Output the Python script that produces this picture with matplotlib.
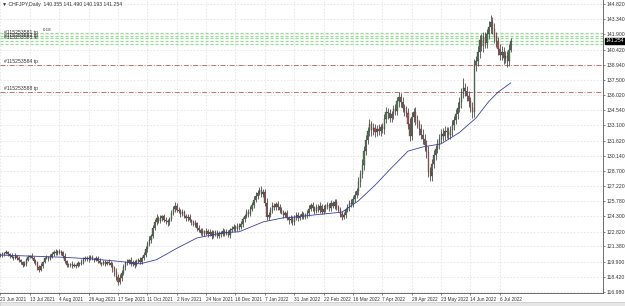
import matplotlib
matplotlib.use("Agg")
import matplotlib.pyplot as plt
from matplotlib import font_manager
import numpy as np
import pandas as pd

# --- data ---
title_text = "▼ CHFJPY,Daily  140.355 141.490 140.193 141.254"
start_date = "2021-06-21"
first_open = 120.45

closes = [
    120.55, 120.62, 120.71, 120.80, 120.66, 120.48, 120.35, 120.30, 120.42, 120.25,
    120.05, 119.85, 119.62, 119.70,
    120.10, 120.38, 120.45, 120.30,
    120.02, 119.74, 119.40, 119.15, 119.48,
    119.90, 120.22, 120.35, 120.18, 120.40,
    120.62, 120.85, 120.70, 120.92, 120.78, 120.88, 120.50,
    119.95, 119.62, 119.55, 119.70, 119.48, 119.60, 119.52, 119.75, 119.68,
    119.92, 120.15, 120.30, 120.12, 120.25, 120.38, 120.20, 120.10, 120.28,
    119.95, 119.80, 119.68, 119.85, 119.72, 119.90, 119.78, 119.60,
    119.25, 118.90, 118.40, 117.95, 118.30,
    118.85, 119.40, 119.75, 119.90, 120.05,
    119.70, 119.85, 119.62, 119.95, 120.10,
    119.90, 120.25, 120.55,
    121.10, 121.65, 122.05, 122.40,
    123.20, 123.75, 124.10,
    123.85, 124.15, 124.30, 123.95, 123.80, 123.70, 124.05,
    124.60, 125.05, 125.30, 124.95, 124.80,
    124.55, 124.70, 124.35, 124.10, 124.25, 123.90, 123.75, 123.50, 123.60, 123.20,
    122.95, 122.70, 122.85, 122.60, 122.90,
    122.55, 122.75, 122.40, 122.80, 122.65, 122.35, 122.70, 122.55, 122.90, 122.60,
    122.80, 122.50, 122.95,
    123.10, 123.30, 123.05, 123.40, 123.25, 123.55,
    124.00, 124.35, 124.70, 124.55, 125.05, 125.40,
    125.90, 126.30, 126.55, 126.80, 126.45, 126.60,
    125.60, 124.20, 124.45,
    124.95, 125.30, 125.15, 125.45, 125.20, 124.90,
    124.70, 124.45, 124.60, 124.15, 123.90, 124.05, 123.70,
    124.20, 124.45, 124.10, 124.35, 124.50, 124.25, 124.40, 124.60,
    125.00, 125.35, 125.10,
    124.85, 125.20, 124.95, 125.30, 124.75, 125.05, 125.25,
    125.40, 125.10, 125.55, 125.30, 125.65, 125.20, 124.90,
    124.55, 124.25, 124.45,
    124.90, 125.15, 125.60, 125.45, 126.00, 126.35, 126.75,
    127.60, 128.40, 129.30,
    130.60, 131.70, 132.50, 133.20,
    132.60, 132.85, 132.40, 132.70, 132.55, 132.90, 132.75,
    133.70, 134.40, 134.25,
    133.80, 134.20, 134.65, 134.50,
    135.40, 135.85, 135.30,
    134.80, 134.50, 134.30,
    133.20, 132.10, 133.90, 134.40,
    133.60, 133.20, 132.70, 132.20, 131.80,
    131.20, 130.50,
    128.60, 128.20,
    129.40, 130.20, 130.80, 131.30, 131.80,
    132.30, 132.10, 132.55, 132.40, 132.20, 132.60,
    133.10, 133.60, 134.20, 134.80, 135.30,
    136.10, 136.70,
    136.40, 135.90, 135.40, 134.80, 134.40, 138.90, 139.30, 140.20, 141.30, 140.80,
    141.60, 141.10, 141.90,
    142.60, 143.10, 142.40,
    141.60, 141.20,
    140.50, 139.90, 140.20, 139.60, 139.80,
    139.30, 140.36,
    141.254,
]

upper_wicks = [
    0.15, 0.2, 0.12, 0.25, 0.18, 0.1, 0.22, 0.15, 0.3, 0.12, 0.2, 0.15, 0.1, 0.25, 0.18, 0.2, 0.12, 0.28, 0.15, 0.1,
    0.2, 0.15, 0.3, 0.12, 0.18, 0.22, 0.1, 0.25, 0.2, 0.15, 0.3, 0.12, 0.2, 0.18, 0.1, 0.25, 0.15, 0.2, 0.12, 0.3,
    0.18, 0.1, 0.22, 0.15, 0.2, 0.25, 0.12, 0.18, 0.3, 0.15, 0.2, 0.1, 0.22, 0.15, 0.28, 0.12, 0.2, 0.18, 0.1, 0.25,
    0.2, 0.3, 0.25, 0.35, 0.3, 0.4, 0.25, 0.3, 0.2, 0.22, 0.15, 0.3, 0.18, 0.25, 0.2, 0.15, 0.3, 0.2, 0.25, 0.3,
    0.25, 0.35, 0.2, 0.3, 0.25, 0.4, 0.2, 0.3, 0.15, 0.25, 0.3, 0.2, 0.18, 0.3, 0.25, 0.35, 0.3, 0.2, 0.25, 0.3,
    0.2, 0.15, 0.3, 0.25, 0.18, 0.2, 0.3, 0.15, 0.25, 0.2, 0.3, 0.15, 0.22, 0.2, 0.3, 0.25, 0.15, 0.2, 0.28, 0.18,
    0.2, 0.3, 0.15, 0.25, 0.2, 0.18, 0.3, 0.22, 0.15, 0.25, 0.2, 0.3, 0.25, 0.2, 0.3, 0.35, 0.25, 0.3, 0.35, 0.3,
    0.25, 0.3, 0.4, 0.3, 0.35, 0.45, 0.3, 0.25, 0.35, 0.3, 0.2, 0.3, 0.25, 0.3, 0.2, 0.25, 0.3, 0.2, 0.35, 0.25,
    0.2, 0.3, 0.25, 0.2, 0.3, 0.25, 0.2, 0.3, 0.35, 0.25, 0.3, 0.2, 0.3, 0.25, 0.35, 0.2, 0.3, 0.25, 0.3, 0.2,
    0.3, 0.25, 0.35, 0.3, 0.2, 0.3, 0.25, 0.3, 0.2, 0.3, 0.25, 0.35, 0.3, 0.4, 0.3, 0.45, 0.4, 0.5, 0.45, 0.5,
    0.4, 0.5, 0.3, 0.45, 0.35, 0.4, 0.5, 0.35, 0.4, 0.5, 0.45, 0.35, 0.4, 0.3, 0.45, 0.5, 0.4, 0.45, 0.4, 0.5,
    0.4, 0.5, 0.45, 0.6, 0.5, 0.4, 0.5, 0.45, 0.4, 0.5, 0.55, 0.45, 0.5, 0.6, 0.5, 0.45, 0.5, 0.4, 0.5, 0.45,
    0.4, 0.5, 0.45, 0.4, 0.5, 0.45, 0.5, 0.4, 0.5, 0.55, 0.5, 0.6, 1.0, 0.5, 0.45, 0.5, 0.4, 0.5, 0.6, 0.5,
    0.55, 0.5, 0.6, 0.5, 0.55, 0.5, 0.6, 0.7, 0.5, 0.55, 0.5, 0.45, 0.5, 0.55, 0.5, 0.45, 0.5, 0.6, 0.236,
]

lower_wicks = [
    0.12, 0.2, 0.15, 0.1, 0.25, 0.18, 0.12, 0.2, 0.15, 0.22, 0.18, 0.15, 0.25, 0.12, 0.2, 0.15, 0.1, 0.18, 0.2, 0.15,
    0.25, 0.2, 0.12, 0.18, 0.15, 0.1, 0.2, 0.15, 0.12, 0.2, 0.18, 0.15, 0.1, 0.22, 0.2, 0.15, 0.25, 0.12, 0.2, 0.15,
    0.1, 0.2, 0.15, 0.18, 0.12, 0.2, 0.15, 0.1, 0.22, 0.18, 0.15, 0.2, 0.12, 0.18, 0.15, 0.2, 0.1, 0.25, 0.15, 0.2,
    0.25, 0.3, 0.35, 0.3, 0.3, 0.2, 0.25, 0.2, 0.3, 0.15, 0.2, 0.25, 0.2, 0.3, 0.15, 0.2, 0.25, 0.2, 0.15, 0.2,
    0.25, 0.2, 0.3, 0.2, 0.25, 0.3, 0.2, 0.25, 0.3, 0.2, 0.25, 0.3, 0.2, 0.25, 0.2, 0.3, 0.25, 0.2, 0.3, 0.25,
    0.2, 0.3, 0.25, 0.2, 0.3, 0.15, 0.25, 0.3, 0.2, 0.25, 0.3, 0.2, 0.15, 0.25, 0.2, 0.3, 0.2, 0.25, 0.15, 0.2,
    0.3, 0.2, 0.25, 0.15, 0.2, 0.3, 0.2, 0.25, 0.3, 0.2, 0.25, 0.2, 0.3, 0.25, 0.2, 0.3, 0.25, 0.2, 0.3, 0.25,
    0.3, 0.2, 0.25, 0.3, 0.35, 0.3, 0.25, 0.2, 0.3, 0.25, 0.2, 0.3, 0.25, 0.2, 0.3, 0.25, 0.2, 0.35, 0.3, 0.25,
    0.2, 0.3, 0.25, 0.2, 0.3, 0.25, 0.2, 0.25, 0.3, 0.2, 0.25, 0.3, 0.2, 0.25, 0.3, 0.2, 0.25, 0.3, 0.2, 0.25,
    0.3, 0.2, 0.25, 0.3, 0.2, 0.35, 0.3, 0.25, 0.3, 0.2, 0.3, 0.25, 0.3, 0.35, 0.3, 0.4, 0.45, 0.4, 0.5, 0.4,
    0.45, 0.4, 0.5, 0.4, 0.45, 0.35, 0.4, 0.5, 0.4, 0.45, 0.4, 0.5, 0.4, 0.35, 0.5, 0.4, 0.45, 0.5, 0.4, 0.45,
    0.5, 0.4, 0.45, 0.5, 0.4, 0.5, 0.45, 0.4, 0.5, 0.45, 0.5, 0.55, 0.6, 0.5, 0.45, 0.5, 0.45, 0.5, 0.4, 0.5,
    0.45, 0.5, 0.4, 0.5, 0.45, 0.4, 0.5, 0.45, 0.4, 0.5, 0.45, 0.5, 0.4, 0.5, 0.45, 0.5, 0.45, 0.6, 0.5, 0.6,
    0.5, 0.55, 0.5, 0.6, 0.5, 0.55, 0.5, 0.6, 0.5, 0.55, 0.5, 0.6, 0.5, 0.45, 0.55, 0.5, 0.6, 0.5, 0.167,
]

# moving average, read at a few bars
ma_bars = [0, 16, 32, 48, 64, 76, 85, 96, 107, 121, 130, 143, 154, 159, 172, 186,
           195, 204, 212, 222, 230, 240, 250, 259, 266, 271, 278]
ma_values = [120.55, 120.45, 120.35, 120.2, 119.95, 119.7, 120.1, 121.2, 122.2, 122.7,
             122.8, 123.75, 124.15, 124.2, 124.45, 124.7, 125.8, 127.3, 128.8, 130.6,
             131.0, 131.3, 132.4, 133.8, 135.4, 136.3, 137.2]

price_ticks = [144.820, 143.340, 141.900, 140.420, 138.940, 137.500, 136.020, 134.540,
               133.100, 131.620, 130.140, 128.700, 127.220, 125.780, 124.300, 122.820,
               121.380, 119.900, 118.420, 116.980]

tp_levels = [138.94, 136.31]
tp_labels = ["#115253584 tp", "#115253588 tp"]
green_levels = [142.00, 141.75, 141.50, 141.25, 141.00]
green_labels = ["#115253581 tp", "#115253582 tp", "#115253583 sl"]
last_price = 141.254

# narrow font if there is one, like the tiny terminal font
installed = {f.name for f in font_manager.fontManager.ttflist}
narrow = "Liberation Sans Narrow" if "Liberation Sans Narrow" in installed else "Liberation Sans"
plt.rcParams["font.family"] = [narrow, "DejaVu Sans"]
FS = 3.7

# --- build ohlc ---
n = len(closes)
c = np.array(closes)
o = np.concatenate([[first_open], c[:-1]])
hi = np.maximum(o, c) + np.array(upper_wicks[:n])
lo = np.minimum(o, c) - np.array(lower_wicks[:n])
idx = np.arange(n)
dates = pd.bdate_range(start_date, periods=n)

W, H = 625, 306
fig = plt.figure(figsize=(W / 100, H / 100), dpi=100)
fig.patch.set_facecolor("white")
ax = fig.add_axes([0, 1 - 293 / H, 603 / W, 293 / H])
ax.set_facecolor("white")

ax.set_xlim(-0.27, 328.2)
ax.set_ylim(116.88, 145.21)

# grid
tick_bars = list(range(0, n, 16))
for tb in tick_bars:
    ax.axvline(tb, color="#e4e4e4", lw=0.6, ls=(0, (2, 2)), zorder=0)
for p in price_ticks:
    ax.axhline(p, color="#e4e4e4", lw=0.6, ls=(0, (2, 2)), zorder=0)

# order lines
for g in green_levels:
    ax.axhline(g, color="#9ad99a", lw=0.9, ls=(0, (2.5, 1.5)), zorder=1)
for lvl in tp_levels:
    ax.axhline(lvl, color="#c45a5a", lw=0.6, ls=(0, (6, 2, 1, 2)), zorder=1)

# candles
up = c >= o
ax.vlines(idx, lo, hi, color="#3a3a3a", lw=0.55, zorder=2)
ax.bar(idx[up], (c - o)[up], bottom=o[up], width=0.6, color="#4f7f4f",
       edgecolor="#2a2a2a", linewidth=0.2, zorder=3)
ax.bar(idx[~up], (o - c)[~up], bottom=c[~up], width=0.6, color="#b25252",
       edgecolor="#3a2a2a", linewidth=0.2, zorder=3)

# moving average
ax.plot(ma_bars, ma_values, color="#3b3f9a", lw=0.6, zorder=4)

# axes styling
for s in ["top", "left"]:
    ax.spines[s].set_visible(False)
for s in ["right", "bottom"]:
    ax.spines[s].set_color("#555555")
    ax.spines[s].set_linewidth(0.6)

ax.yaxis.tick_right()
ax.set_yticks(price_ticks)
ax.set_yticklabels([f"{p:.3f}" for p in price_ticks])
ax.tick_params(axis="y", length=1.5, width=0.5, pad=1.0, labelsize=FS,
               labelcolor="#333333", color="#555555")

ax.set_xticks(tick_bars)
ax.set_xticklabels([f"{dates[t].day} {dates[t]:%b %Y}" for t in tick_bars],
                   ha="left")
ax.tick_params(axis="x", length=1.5, width=0.5, pad=1.5, labelsize=3.4,
               labelcolor="#333333", color="#555555")

# texts
ax.text(0.004, 0.992, title_text, transform=ax.transAxes, fontsize=FS,
        color="#333333", va="top", ha="left")
for lvl, lab in zip(tp_levels, tp_labels):
    ax.text(2, lvl + 0.12, lab, fontsize=FS, color="#333333", va="bottom", ha="left")
for g, lab in zip(green_levels[1:], green_labels):
    ax.text(2, g + 0.05, lab, fontsize=FS, color="#333333", va="bottom", ha="left")
ax.text(23, green_levels[0] + 0.1, "0.18", fontsize=3.2, color="#333333",
        va="bottom", ha="left")

# current price tag
ax.annotate(f"{last_price:.3f}", xy=(1.0, last_price), xycoords=("axes fraction", "data"),
            xytext=(1.8, 0), textcoords="offset points", fontsize=FS, color="white",
            va="center", ha="left",
            bbox=dict(boxstyle="square,pad=0.15", facecolor="black", edgecolor="black"),
            annotation_clip=False)

# bottom status strip
fig.patches.append(plt.Rectangle((0, 0), 1, 4 / H, transform=fig.transFigure,
                                 facecolor="#e6e6e6", edgecolor="#bbbbbb", lw=0.4))

fig.savefig("out.png", dpi=100)
